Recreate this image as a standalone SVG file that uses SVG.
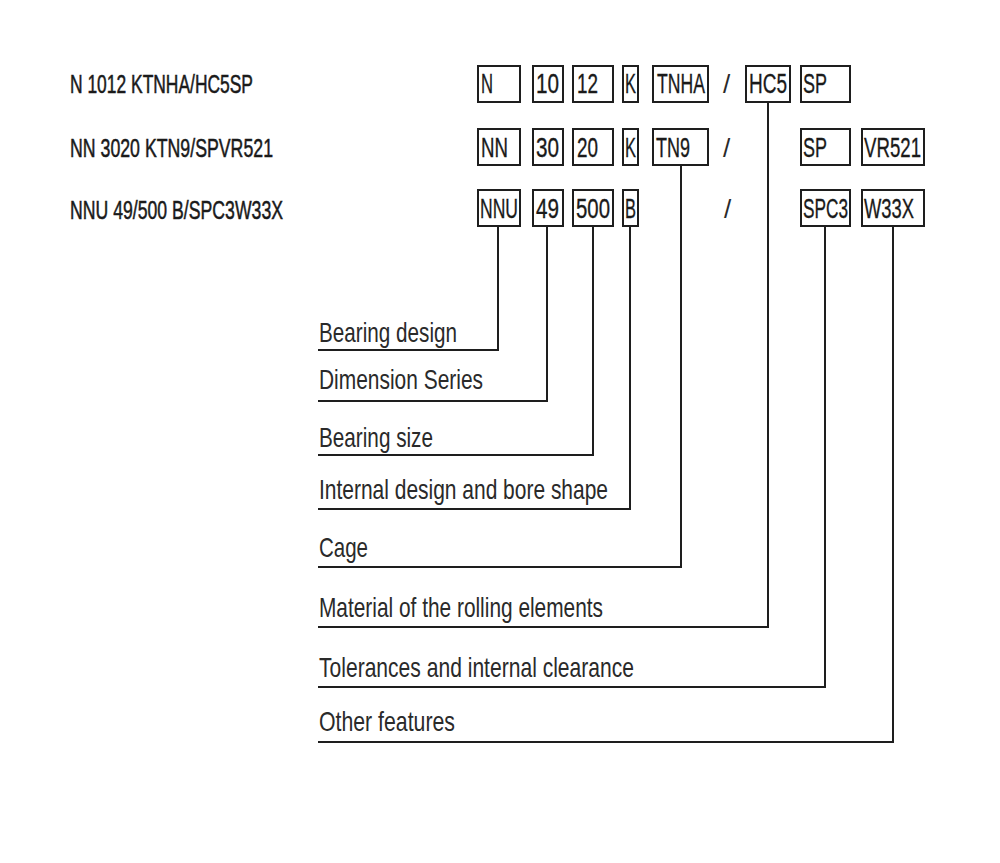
<svg xmlns="http://www.w3.org/2000/svg" width="1000" height="863" viewBox="0 0 1000 863">
<style>
.bg{fill:#ffffff}
.box{fill:#ffffff;stroke:#1e1e1e;stroke-width:2}
.bt{font-family:"Liberation Sans",Arial,sans-serif;font-size:28px;fill:#1a1a1a;stroke:#1a1a1a;stroke-width:0.35}
.sl{font-family:"Liberation Sans",Arial,sans-serif;font-size:26px;fill:#2a2a2a}
.code{font-family:"Liberation Sans",Arial,sans-serif;font-size:25px;fill:#1a1a1a;stroke:#1a1a1a;stroke-width:0.5}
.lbl{font-family:"Liberation Sans",Arial,sans-serif;font-size:28px;fill:#2a2a2a}
.ln{fill:none;stroke:#1e1e1e;stroke-width:2}
</style>
<rect class="bg" x="0" y="0" width="1000" height="863"/>

<g id="codes">
<text class="code" x="70" y="93" textLength="183" lengthAdjust="spacingAndGlyphs">N 1012 KTNHA/HC5SP</text>
<text class="code" x="70" y="157" textLength="203" lengthAdjust="spacingAndGlyphs">NN 3020 KTN9/SPVR521</text>
<text class="code" x="70" y="219" textLength="213" lengthAdjust="spacingAndGlyphs">NNU 49/500 B/SPC3W33X</text>
</g>

<g id="row1">
<g id="r1-N"><rect class="box" x="478" y="66" width="42" height="36"/><text class="bt" transform="translate(481,93) scale(0.65,1)" textLength="18.5" lengthAdjust="spacingAndGlyphs">N</text></g>
<g id="r1-10"><rect class="box" x="533" y="66" width="30" height="36"/><text class="bt" transform="translate(536,93) scale(0.65,1)" textLength="35.4" lengthAdjust="spacingAndGlyphs">10</text></g>
<g id="r1-12"><rect class="box" x="573" y="66" width="40" height="36"/><text class="bt" transform="translate(577,93) scale(0.65,1)" textLength="32.3" lengthAdjust="spacingAndGlyphs">12</text></g>
<g id="r1-K"><rect class="box" x="623" y="66" width="15" height="36"/><text class="bt" transform="translate(625,93) scale(0.65,1)" textLength="16.9" lengthAdjust="spacingAndGlyphs">K</text></g>
<g id="r1-TNHA"><rect class="box" x="653" y="66" width="55" height="36"/><text class="bt" transform="translate(657,93) scale(0.65,1)" textLength="73.8" lengthAdjust="spacingAndGlyphs">TNHA</text></g>
<g id="r1-slash"><text class="sl" x="723" y="93">/</text></g>
<g id="r1-HC5"><rect class="box" x="746" y="66" width="44" height="36"/><text class="bt" transform="translate(749,93) scale(0.65,1)" textLength="58.5" lengthAdjust="spacingAndGlyphs">HC5</text></g>
<g id="r1-SP"><rect class="box" x="801" y="66" width="49" height="36"/><text class="bt" transform="translate(803,93) scale(0.65,1)" textLength="36.9" lengthAdjust="spacingAndGlyphs">SP</text></g>
</g>

<g id="row2">
<g id="r2-NN"><rect class="box" x="478" y="129" width="42" height="36"/><text class="bt" transform="translate(481,157) scale(0.65,1)" textLength="41.5" lengthAdjust="spacingAndGlyphs">NN</text></g>
<g id="r2-30"><rect class="box" x="533" y="129" width="30" height="36"/><text class="bt" transform="translate(536,157) scale(0.65,1)" textLength="35.4" lengthAdjust="spacingAndGlyphs">30</text></g>
<g id="r2-20"><rect class="box" x="573" y="129" width="40" height="36"/><text class="bt" transform="translate(577,157) scale(0.65,1)" textLength="32.3" lengthAdjust="spacingAndGlyphs">20</text></g>
<g id="r2-K"><rect class="box" x="623" y="129" width="15" height="36"/><text class="bt" transform="translate(625,157) scale(0.65,1)" textLength="16.9" lengthAdjust="spacingAndGlyphs">K</text></g>
<g id="r2-TN9"><rect class="box" x="653" y="129" width="55" height="36"/><text class="bt" transform="translate(656,157) scale(0.65,1)" textLength="52.3" lengthAdjust="spacingAndGlyphs">TN9</text></g>
<g id="r2-slash"><text class="sl" x="723" y="157">/</text></g>
<g id="r2-SP"><rect class="box" x="801" y="129" width="49" height="36"/><text class="bt" transform="translate(803,157) scale(0.65,1)" textLength="36.9" lengthAdjust="spacingAndGlyphs">SP</text></g>
<g id="r2-VR521"><rect class="box" x="862" y="129" width="62" height="36"/><text class="bt" transform="translate(864,157) scale(0.65,1)" textLength="87.7" lengthAdjust="spacingAndGlyphs">VR521</text></g>
</g>

<g id="row3">
<g id="r3-NNU"><rect class="box" x="478" y="190" width="42" height="36"/><text class="bt" transform="translate(480,218) scale(0.65,1)" textLength="58.5" lengthAdjust="spacingAndGlyphs">NNU</text></g>
<g id="r3-49"><rect class="box" x="533" y="190" width="30" height="36"/><text class="bt" transform="translate(536,218) scale(0.65,1)" textLength="35.4" lengthAdjust="spacingAndGlyphs">49</text></g>
<g id="r3-500"><rect class="box" x="573" y="190" width="40" height="36"/><text class="bt" transform="translate(576,218) scale(0.65,1)" textLength="52.3" lengthAdjust="spacingAndGlyphs">500</text></g>
<g id="r3-B"><rect class="box" x="623" y="190" width="15" height="36"/><text class="bt" transform="translate(625,218) scale(0.65,1)" textLength="16.9" lengthAdjust="spacingAndGlyphs">B</text></g>
<g id="r3-slash"><text class="sl" x="724" y="218">/</text></g>
<g id="r3-SPC3"><rect class="box" x="801" y="190" width="49" height="36"/><text class="bt" transform="translate(803,218) scale(0.65,1)" textLength="69.2" lengthAdjust="spacingAndGlyphs">SPC3</text></g>
<g id="r3-W33X"><rect class="box" x="862" y="190" width="62" height="36"/><text class="bt" transform="translate(864,218) scale(0.65,1)" textLength="76.9" lengthAdjust="spacingAndGlyphs">W33X</text></g>
</g>

<g id="connectors">
<polyline class="ln" points="498,227 498,350 318,350"/>
<polyline class="ln" points="547,227 547,401 318,401"/>
<polyline class="ln" points="593,227 593,455 318,455"/>
<polyline class="ln" points="630,227 630,509 318,509"/>
<polyline class="ln" points="681,166 681,567 318,567"/>
<polyline class="ln" points="768,103 768,627 318,627"/>
<polyline class="ln" points="825,227 825,687 318,687"/>
<polyline class="ln" points="893,227 893,742 318,742"/>
</g>

<g id="labels">
<g id="lbl-design"><text class="lbl" x="319" y="342" textLength="138" lengthAdjust="spacingAndGlyphs">Bearing design</text></g>
<g id="lbl-dimension"><text class="lbl" x="319" y="389" textLength="164" lengthAdjust="spacingAndGlyphs">Dimension Series</text></g>
<g id="lbl-size"><text class="lbl" x="319" y="447" textLength="114" lengthAdjust="spacingAndGlyphs">Bearing size</text></g>
<g id="lbl-internal"><text class="lbl" x="319" y="499" textLength="289" lengthAdjust="spacingAndGlyphs">Internal design and bore shape</text></g>
<g id="lbl-cage"><text class="lbl" x="319" y="557" textLength="49" lengthAdjust="spacingAndGlyphs">Cage</text></g>
<g id="lbl-material"><text class="lbl" x="319" y="617" textLength="284" lengthAdjust="spacingAndGlyphs">Material of the rolling elements</text></g>
<g id="lbl-tolerances"><text class="lbl" x="319" y="677" textLength="315" lengthAdjust="spacingAndGlyphs">Tolerances and internal clearance</text></g>
<g id="lbl-other"><text class="lbl" x="319" y="731" textLength="136" lengthAdjust="spacingAndGlyphs">Other features</text></g>
</g>
</svg>
